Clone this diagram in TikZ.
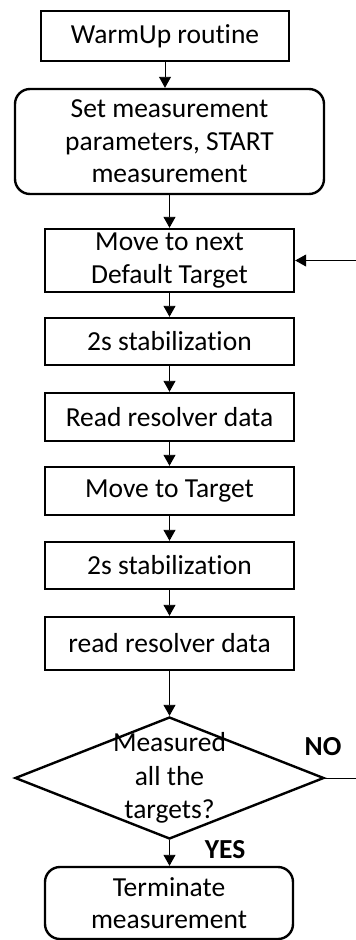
\documentclass[tikz,border=0pt]{standalone}
\usepackage{fontspec}
\setmainfont{Carlito}[Ligatures=NoCommon]
\usepackage{tikz}
\usetikzlibrary{arrows.meta,shapes.geometric}

\begin{document}
\begin{tikzpicture}[x=1pt, y=-1pt,
  font=\fontsize{27.5}{32.5}\selectfont,
  stepbox/.style={draw, line width=2.4pt, inner sep=0pt, align=center, minimum width=249pt},
  roundbox/.style={stepbox, rounded corners=15pt},
  decbox/.style={draw, line width=2.4pt, diamond, inner sep=0pt, minimum width=309pt, minimum height=122pt},
  arr/.style={-{Triangle[length=11pt, width=12pt]}, line width=0.9pt}]
\useasboundingbox (0,0) rectangle (356,940);

% ---- start-up ----
\node[stepbox, minimum width=248pt, minimum height=50pt] (warm) at (165,36) {WarmUp routine};
\node[roundbox, minimum width=309pt, minimum height=105pt] (setp) at (169.5,141.5)
  {Set measurement\\parameters, START\\measurement};

% ---- loop over the targets ----
\node[stepbox, minimum height=63pt] (movn)  at (169.5,260.5) {Move to next\\Default Target};
\node[stepbox, minimum height=47pt] (stab1) at (169.5,341.5) {2s stabilization};
\node[stepbox, minimum height=48pt] (read1) at (169.5,417) {Read resolver data};
\node[stepbox, minimum height=48pt] (movt)  at (169.5,491) {Move to Target};
\node[stepbox, minimum height=47pt] (stab2) at (169.5,565.5) {2s stabilization};
\node[stepbox, minimum height=53pt] (read2) at (169.5,643.5) {read resolver data};

% ---- decision and end ----
\node[decbox] (dec) at (169.5,778) {};
\node[align=center, font=\fontsize{27.5}{33.5}\selectfont] (dectxt) at (dec) {Measured\\all the\\targets?};
\node[roundbox, minimum width=248pt, minimum height=72pt] (term) at (169,903) {Terminate\\measurement};
\node[font=\fontsize{27.5}{32}\bfseries] (yes) at (225,850) {YES};
\node[font=\fontsize{27.5}{32}\bfseries] (no)  at (323,747) {NO};

% ---- connectors ----
\draw[arr] (warm.south) -- (warm.south |- setp.north);
\draw[arr] (setp.south) -- (movn.north);
\draw[arr] (movn.south) -- (stab1.north);
\draw[arr] (stab1.south) -- (read1.north);
\draw[arr] (read1.south) -- (movt.north);
\draw[arr] (movt.south) -- (stab2.north);
\draw[arr] (stab2.south) -- (read2.north);
\draw[arr] (read2.south) -- (dec.north);
\draw[arr] (dec.south) -- (term.north -| dec.south);

% the NO branch leaves past the right margin and comes back in
\coordinate (loopc) at (372,778);
\draw[arr] (dec.east) -- (loopc) |- (movn.east);
\end{tikzpicture}
\end{document}
